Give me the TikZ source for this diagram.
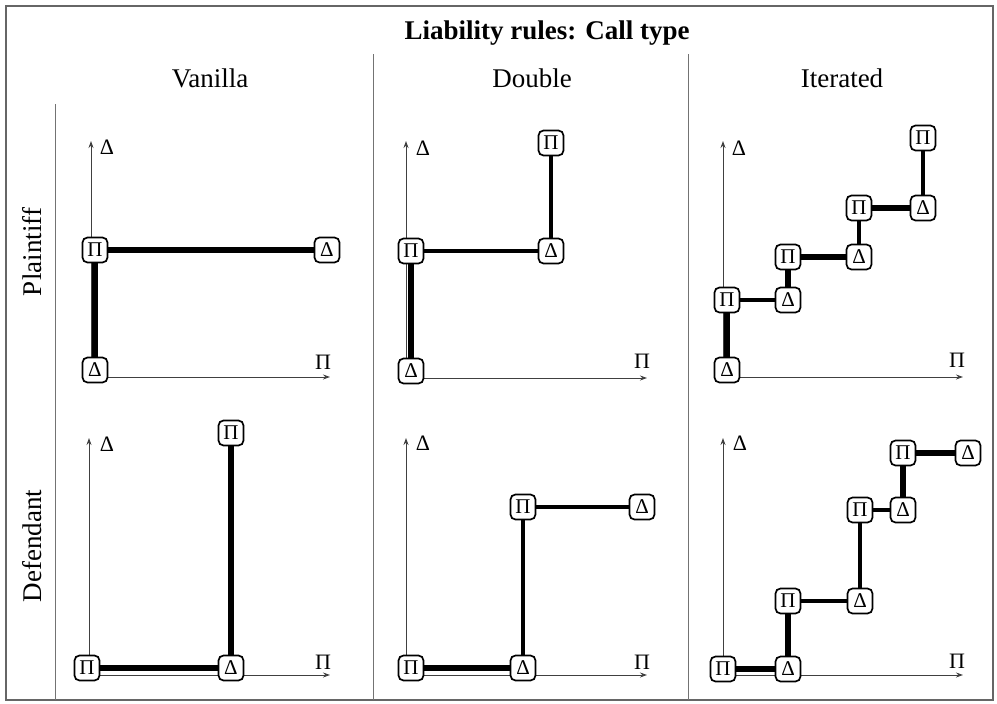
\documentclass[tikz,border=0pt]{standalone}
\usepackage{fontspec}
\setmainfont{Liberation Serif}
\usetikzlibrary{arrows.meta,backgrounds}
\begin{document}
\begin{tikzpicture}[x=1pt,y=-1pt,
  box/.style={draw,fill=white,line width=1.7pt,rounded corners=5pt,minimum width=25pt,minimum height=25pt,inner sep=0pt,font=\fontsize{21}{22}\selectfont},
  axis/.style={draw=black!75,line width=0.9pt,-{Stealth[length=7pt,width=5pt]}},
  axlab/.style={font=\fontsize{22}{24}\selectfont},
  head/.style={font=\fontsize{27}{30}\selectfont},
  sep/.style={draw=black!55,line width=1pt},
  heavy/.style={line width=5.5pt},
  mid/.style={line width=4.2pt},
  light/.style={line width=3.4pt}]
\useasboundingbox (0,0) rectangle (997,704);
% frame and separators
\draw[draw=black!60,line width=1.5pt] (6,6) rectangle (993,700);
\coordinate (s1t) at (55,104); \coordinate (s1b) at (55,700);
\coordinate (s2t) at (373,54); \coordinate (s2b) at (373,700);
\coordinate (s3t) at (688,54); \coordinate (s3b) at (688,700);
\draw[sep] (s1t) -- (s1b);
\draw[sep] (s2t) -- (s2b);
\draw[sep] (s3t) -- (s3b);
% headings
\node[head,font=\fontsize{27}{30}\selectfont\bfseries] (title) at (547,33) {Liability rules: Call type};
\node[head] (hv) at (210,78) {Vanilla};
\node[head] (hd) at (532,78) {Double};
\node[head] (hi) at (842,78) {Iterated};
\node[head,rotate=90] (rp) at (32,252) {Plaintiff};
\node[head,rotate=90] (rd) at (32,546) {Defendant};

% ---------- Vanilla / Plaintiff ----------
\coordinate (vpo) at (91,377); \coordinate (vpy) at (91,141); \coordinate (vpx) at (330,377);
\node[axlab] (vpyl) at (107,147) {Δ};
\node[axlab] (vpxl) at (323,362) {Π};
\node[box] (vp0) at (95,370) {Δ};
\node[box] (vp1) at (95,250) {Π};
\node[box] (vp2) at (327,250) {Δ};
% ---------- Double / Plaintiff ----------
\coordinate (dpo) at (406,378); \coordinate (dpy) at (406,141); \coordinate (dpx) at (647,378);
\node[axlab] (dpyl) at (423,148) {Δ};
\node[axlab] (dpxl) at (642,361) {Π};
\node[box] (dp0) at (411,371) {Δ};
\node[box] (dp1) at (411,251) {Π};
\node[box] (dp2) at (551,251) {Δ};
\node[box] (dp3) at (551,143) {Π};
% ---------- Iterated / Plaintiff ----------
\coordinate (ipo) at (723,377); \coordinate (ipy) at (723,141); \coordinate (ipx) at (963,377);
\node[axlab] (ipyl) at (739,148) {Δ};
\node[axlab] (ipxl) at (957,360) {Π};
\node[box] (ip0) at (727,370) {Δ};
\node[box] (ip1) at (727,300) {Π};
\node[box] (ip2) at (788,300) {Δ};
\node[box] (ip3) at (788,257) {Π};
\node[box] (ip4) at (859,257) {Δ};
\node[box] (ip5) at (859,208) {Π};
\node[box] (ip6) at (923,208) {Δ};
\node[box] (ip7) at (923,138) {Π};
% ---------- Vanilla / Defendant ----------
\coordinate (vdo) at (89,675); \coordinate (vdy) at (89,438); \coordinate (vdx) at (330,675);
\node[axlab] (vdyl) at (107,444) {Δ};
\node[axlab] (vdxl) at (323,662) {Π};
\node[box] (vd0) at (87,668) {Π};
\node[box] (vd1) at (231,668) {Δ};
\node[box] (vd2) at (231,433) {Π};
% ---------- Double / Defendant ----------
\coordinate (ddo) at (406,675); \coordinate (ddy) at (406,438); \coordinate (ddx) at (647,675);
\node[axlab] (ddyl) at (423,443) {Δ};
\node[axlab] (ddxl) at (642,662) {Π};
\node[box] (dd0) at (411,668) {Π};
\node[box] (dd1) at (523,668) {Δ};
\node[box] (dd2) at (523,507) {Π};
\node[box] (dd3) at (642,507) {Δ};
% ---------- Iterated / Defendant ----------
\coordinate (ido) at (723,675); \coordinate (idy) at (723,438); \coordinate (idx) at (963,675);
\node[axlab] (idyl) at (740,443) {Δ};
\node[axlab] (idxl) at (957,661) {Π};
\node[box] (id0) at (723,669) {Π};
\node[box] (id1) at (788,669) {Δ};
\node[box] (id2) at (788,601) {Π};
\node[box] (id3) at (860,601) {Δ};
\node[box] (id4) at (860,510) {Π};
\node[box] (id5) at (903,510) {Δ};
\node[box] (id6) at (903,453) {Π};
\node[box] (id7) at (968,453) {Δ};

\begin{scope}[on background layer]
% axes
\foreach \p in {vp,dp,ip,vd,dd,id}{
  \draw[axis] (\p o) -- (\p y);
  \draw[axis] (\p o) -- (\p x);
}
% connectors
\draw[heavy] (vp0) -- (vp1);
\draw[heavy] (vp1) -- (vp2);
\draw[heavy] (dp0) -- (dp1);
\draw[mid] (dp1) -- (dp2);
\draw[mid] (dp2) -- (dp3);
\draw[heavy] (ip0) -- (ip1);
\draw[mid] (ip1) -- (ip2);
\draw[heavy] (ip2) -- (ip3);
\draw[heavy] (ip3) -- (ip4);
\draw[light] (ip4) -- (ip5);
\draw[heavy] (ip5) -- (ip6);
\draw[mid] (ip6) -- (ip7);
\draw[heavy] (vd0) -- (vd1);
\draw[heavy] (vd1) -- (vd2);
\draw[heavy] (dd0) -- (dd1);
\draw[mid] (dd1) -- (dd2);
\draw[mid] (dd2) -- (dd3);
\draw[heavy] (id0) -- (id1);
\draw[heavy] (id1) -- (id2);
\draw[light] (id2) -- (id3);
\draw[mid] (id3) -- (id4);
\draw[light] (id4) -- (id5);
\draw[heavy] (id5) -- (id6);
\draw[heavy] (id6) -- (id7);
\end{scope}
\end{tikzpicture}
\end{document}
